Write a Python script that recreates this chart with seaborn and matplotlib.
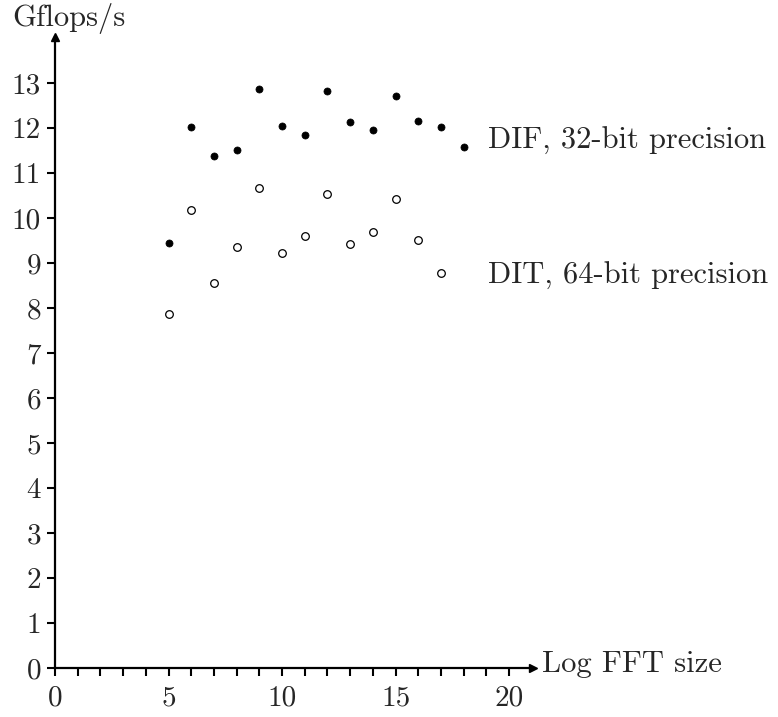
import matplotlib
matplotlib.use("Agg")
import matplotlib.pyplot as plt
import seaborn as sns
import pandas as pd

# Data
log_sizes_dif = [5, 6, 7, 8, 9, 10, 11, 12, 13, 14, 15, 16, 17, 18]
gflops_dif = [9.45, 12.01, 11.38, 11.50, 12.87, 12.05, 11.85, 12.81, 12.14, 11.96, 12.72, 12.16, 12.01, 11.58]
log_sizes_dit = [5, 6, 7, 8, 9, 10, 11, 12, 13, 14, 15, 16, 17]
gflops_dit = [7.87, 10.17, 8.56, 9.36, 10.66, 9.22, 9.60, 10.53, 9.42, 9.68, 10.42, 9.51, 8.78]
x_ticks = list(range(0, 21))
x_tick_labels = ["0" if t == 0 else (str(t) if t % 5 == 0 else "") for t in x_ticks]
y_ticks = list(range(0, 14))

sns.set_style("ticks")
plt.rcParams["font.family"] = ["cmr10", "DejaVu Serif"]
plt.rcParams["axes.formatter.use_mathtext"] = True

FS = 22

dif = pd.DataFrame({"size": log_sizes_dif, "gflops": gflops_dif})
dit = pd.DataFrame({"size": log_sizes_dit, "gflops": gflops_dit})

fig = plt.figure(figsize=(7.78, 7.17), dpi=100)
ax = fig.add_axes([55 / 778, 49 / 717, 478 / 778, 631 / 717])

sns.scatterplot(data=dif, x="size", y="gflops", ax=ax, color="black",
                s=26, edgecolor="black", linewidth=0.5)
sns.scatterplot(data=dit, x="size", y="gflops", ax=ax, facecolor="white",
                s=30, edgecolor="black", linewidth=0.9)

ax.set_xlim(0, 21.05)
ax.set_ylim(0, 14.02)
ax.set_xticks(x_ticks)
ax.set_xticklabels(x_tick_labels)
ax.set_yticks(y_ticks)
ax.set_yticklabels([str(t) for t in y_ticks])
ax.tick_params(axis="both", labelsize=FS - 1, width=1.5, length=6, direction="out", color="black")
ax.tick_params(axis="x", pad=6)
ax.tick_params(axis="y", pad=4)
ax.set_xlabel("")
ax.set_ylabel("")

sns.despine(ax=ax)
for side in ["left", "bottom"]:
    ax.spines[side].set_linewidth(1.6)
    ax.spines[side].set_color("black")

# arrow heads at the axis ends
ax.plot(1, 0, ">", color="black", markersize=6, transform=ax.get_yaxis_transform(), clip_on=False)
ax.plot(0, 1, "^", color="black", markersize=6, transform=ax.get_xaxis_transform(), clip_on=False)

# labels
fig.text(12 / 778, 1 - 19 / 717, "Gflops/s", fontsize=FS, ha="left", va="center")
ax.text(21.45, 0.08, "Log FFT size", fontsize=FS, ha="left", va="center", clip_on=False)
ax.text(19.05, 11.72, "DIF, 32-bit precision", fontsize=FS, ha="left", va="center", clip_on=False)
ax.text(19.05, 8.72, "DIT, 64-bit precision", fontsize=FS, ha="left", va="center", clip_on=False)

fig.savefig("out.png", dpi=100)
